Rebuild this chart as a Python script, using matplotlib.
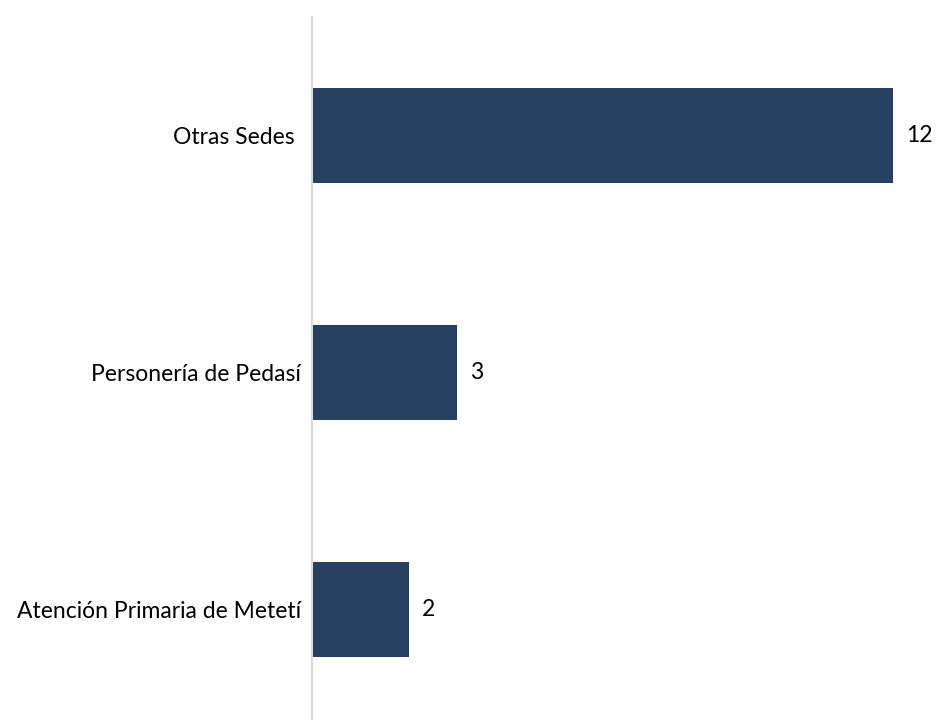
import matplotlib.pyplot as plt

categories = ['Atención Primaria de Metetí', 'Personería de Pedasí', 'Otras Sedes ']
values = [2, 3, 12]

plt.rcParams['font.family'] = ['Lato', 'DejaVu Sans']

fig = plt.figure(figsize=(9.36, 7.2), dpi=100)
ax = fig.add_axes([312 / 936, 0, 1 - 312 / 936, 1 - 17 / 720])

pos = list(range(len(categories)))
ax.barh(pos, values, height=0.4, color='#264061')

for p, v in zip(pos, values):
    ax.annotate(str(v), (v, p), xytext=(13, 0), textcoords='offset pixels',
                va='center', ha='left', fontsize=16.5, color='#000000')

ax.set_xlim(0, 624 / 48.4)
ax.set_ylim(-0.466, 2.5)
ax.set_yticks(pos)
ax.set_yticklabels(categories, fontsize=16.5)
ax.tick_params(axis='y', length=0, pad=8)
ax.set_xticks([])
for s in ['top', 'right', 'bottom']:
    ax.spines[s].set_visible(False)
ax.spines['left'].set_color('#d9d9d9')
ax.spines['left'].set_linewidth(1.5)

fig.savefig('out.png', dpi=100)
